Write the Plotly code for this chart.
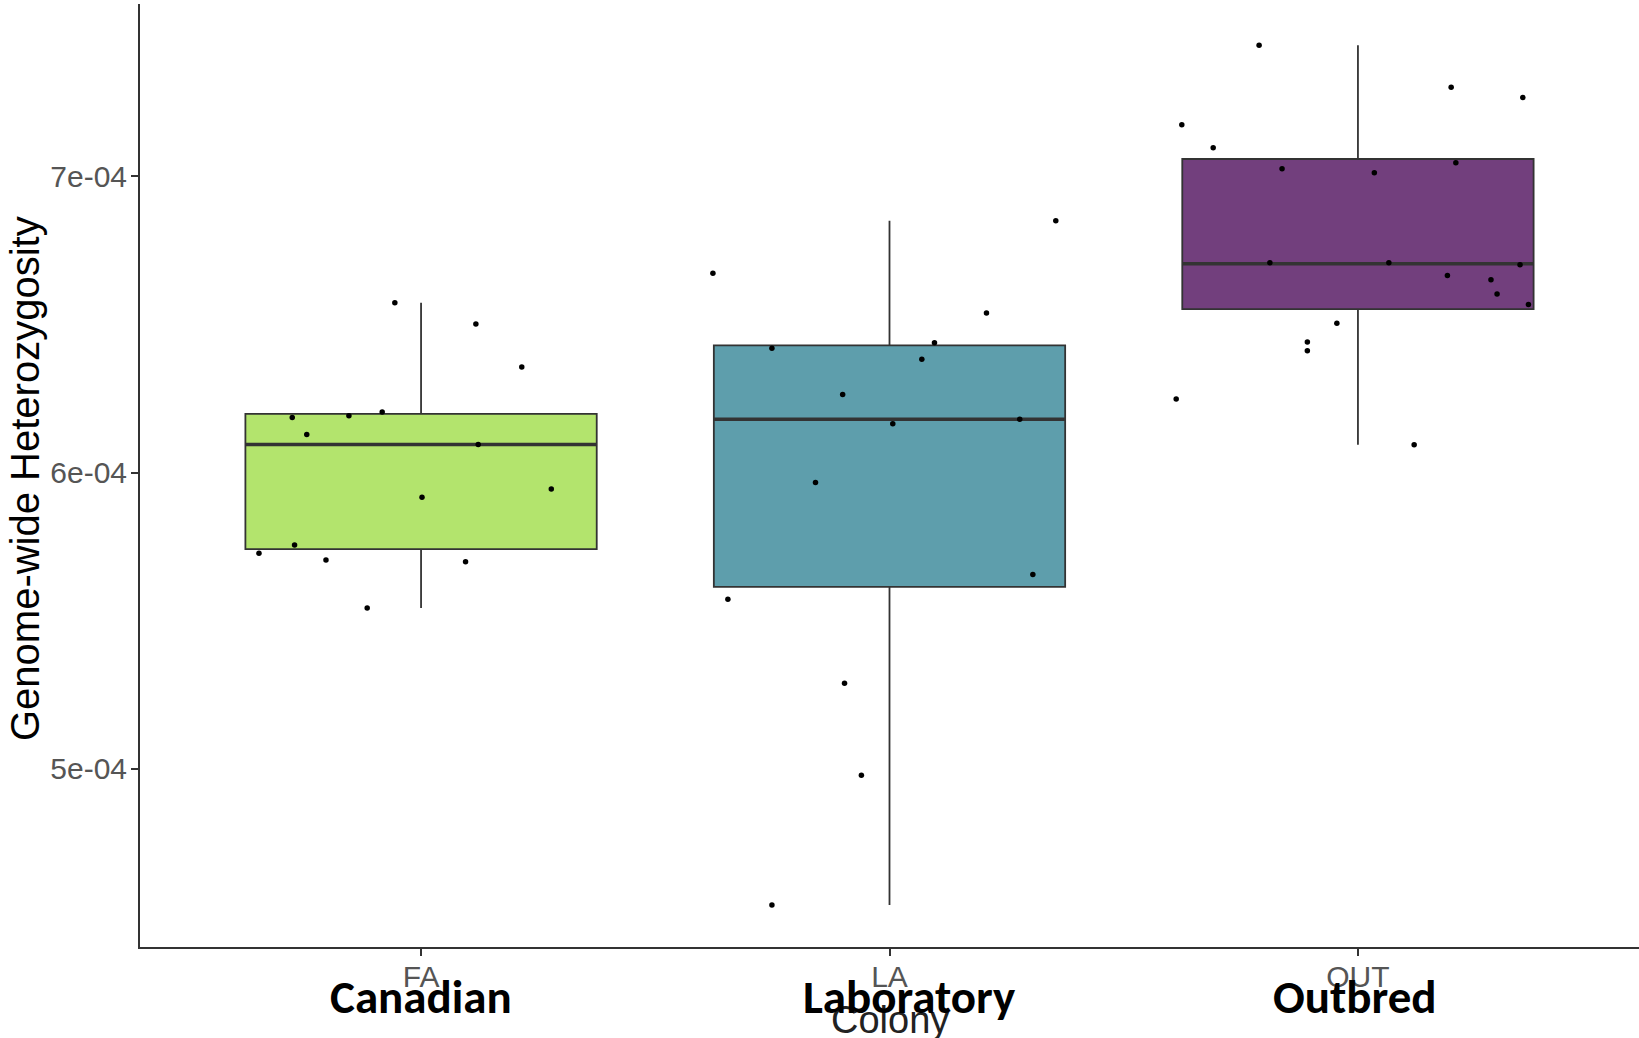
import plotly.graph_objects as go
import numpy as np

# ---------------- data ----------------
categories = ["FA", "LA", "OUT"]
group_labels = ["Canadian", "Laboratory", "Outbred"]
fill_colors = ["#B3E46D", "#5E9EAC", "#723F7D"]

fa_values = [6.186e-4, 6.192e-4, 6.205e-4, 6.129e-4, 6.095e-4, 5.917e-4, 5.945e-4, 5.756e-4,
             5.728e-4, 5.705e-4, 5.699e-4, 5.543e-4, 6.574e-4, 6.502e-4, 6.357e-4]
fa_jitter = [-0.275, -0.154, -0.083, -0.244, 0.122, 0.002, 0.278, -0.270,
             -0.346, -0.203, 0.095, -0.115, -0.056, 0.117, 0.215]

la_values = [6.673e-4, 6.850e-4, 6.539e-4, 6.439e-4, 6.420e-4, 6.383e-4, 6.264e-4, 6.165e-4,
             6.180e-4, 5.967e-4, 5.656e-4, 5.573e-4, 5.289e-4, 4.979e-4, 4.541e-4]
la_jitter = [-0.377, 0.355, 0.207, 0.096, -0.251, 0.069, -0.100, 0.007,
             0.278, -0.158, 0.306, -0.345, -0.096, -0.060, -0.251]

out_values = [7.443e-4, 7.174e-4, 7.097e-4, 7.301e-4, 7.266e-4, 7.026e-4, 7.012e-4, 7.046e-4,
              6.709e-4, 6.709e-4, 6.702e-4, 6.666e-4, 6.651e-4, 6.603e-4, 6.568e-4, 6.504e-4,
              6.441e-4, 6.412e-4, 6.249e-4, 6.094e-4]
out_jitter = [-0.211, -0.376, -0.309, 0.199, 0.352, -0.162, 0.035, 0.209,
              -0.188, 0.066, 0.346, 0.191, 0.284, 0.297, 0.364, -0.045,
              -0.108, -0.108, -0.388, 0.120]

y_tick_values = [5e-4, 6e-4, 7e-4]
y_tick_labels = ["5e-04", "6e-04", "7e-04"]

values = [fa_values, la_values, out_values]
jitters = [fa_jitter, la_jitter, out_jitter]


def box_stats(vals):
    """Tukey box statistics as ggplot2 computes them (quantile type 7)."""
    a = np.asarray(vals, dtype=float)
    q1, med, q3 = np.percentile(a, [25, 50, 75])
    iqr = q3 - q1
    lo = a[a >= q1 - 1.5 * iqr].min()
    hi = a[a <= q3 + 1.5 * iqr].max()
    return float(q1), float(med), float(q3), float(lo), float(hi)


# ---------------- figure ----------------
BOX_W = 0.75
OUTLINE = "#333333"
fig = go.Figure()

for i, (vals, col) in enumerate(zip(values, fill_colors)):
    q1, med, q3, lo, hi = box_stats(vals)
    fig.add_trace(go.Box(
        x=[i], q1=[q1], median=[med], q3=[q3], lowerfence=[lo], upperfence=[hi],
        width=BOX_W, fillcolor=col, line=dict(color=OUTLINE, width=1.8),
        boxpoints=False, whiskerwidth=0,
        showlegend=False, hoverinfo="skip",
    ))
    fig.add_trace(go.Scatter(
        x=[i - BOX_W / 2, i + BOX_W / 2], y=[med, med], mode="lines",
        line=dict(color=OUTLINE, width=3.5), showlegend=False, hoverinfo="skip",
    ))

for i, (vals, jit) in enumerate(zip(values, jitters)):
    fig.add_trace(go.Scatter(
        x=[i + j for j in jit], y=vals, mode="markers",
        marker=dict(color="black", size=5.5), showlegend=False, hoverinfo="skip",
    ))

W, H = 1639, 1038
L, R, T, B = 140, 0, 4, 91
plot_h = H - T - B

def py(pix):
    return (H - B - pix) / plot_h

tick_font = dict(family="Liberation Sans, Arial, sans-serif", size=30, color="#555555")

fig.update_layout(
    width=W, height=H,
    margin=dict(l=L, r=R, t=T, b=B),
    plot_bgcolor="white", paper_bgcolor="white",
    xaxis=dict(range=[-0.6, 2.6], tickvals=[0, 1, 2], ticktext=categories,
               showline=True, linecolor=OUTLINE, linewidth=2,
               ticks="outside", ticklen=7, tickwidth=2, tickcolor=OUTLINE,
               tickfont=tick_font, showgrid=False, zeroline=False, ticklabelstandoff=-5),
    yaxis=dict(range=[4.399e-4, 7.582e-4], tickvals=y_tick_values, ticktext=y_tick_labels,
               showline=True, linecolor=OUTLINE, linewidth=2,
               ticks="outside", ticklen=7, tickwidth=2, tickcolor=OUTLINE,
               tickfont=tick_font, showgrid=False, zeroline=False, ticklabelstandoff=-2),
    annotations=[
        dict(text="Genome-wide Heterozygosity", xref="paper", yref="paper",
             x=(25 - L) / (W - L - R), y=py(479), textangle=-90, showarrow=False,
             xanchor="center", yanchor="middle",
             font=dict(family="Liberation Sans, Arial, sans-serif", size=40, color="black")),
        dict(text="Colony", xref="x", yref="paper", x=1, y=py(997), showarrow=False,
             xanchor="center", yanchor="top",
             font=dict(family="Liberation Sans, Arial, sans-serif", size=38, color="#222222")),
    ] + [
        dict(text="<b>%s</b>" % lab, xref="x", yref="paper", x=i, y=py(997),
             xshift=(20 if i == 1 else (-3 if i == 2 else 0)),
             showarrow=False, xanchor="center", yanchor="middle",
             font=dict(family="Calibri, Carlito, Lato, sans-serif", size=47, color="black"))
        for i, lab in enumerate(group_labels)
    ],
)

fig.write_html(
    "out.html",
    config={"displayModeBar": False},
    post_script="document.body.style.margin='0';document.body.style.overflow='hidden';",
)
